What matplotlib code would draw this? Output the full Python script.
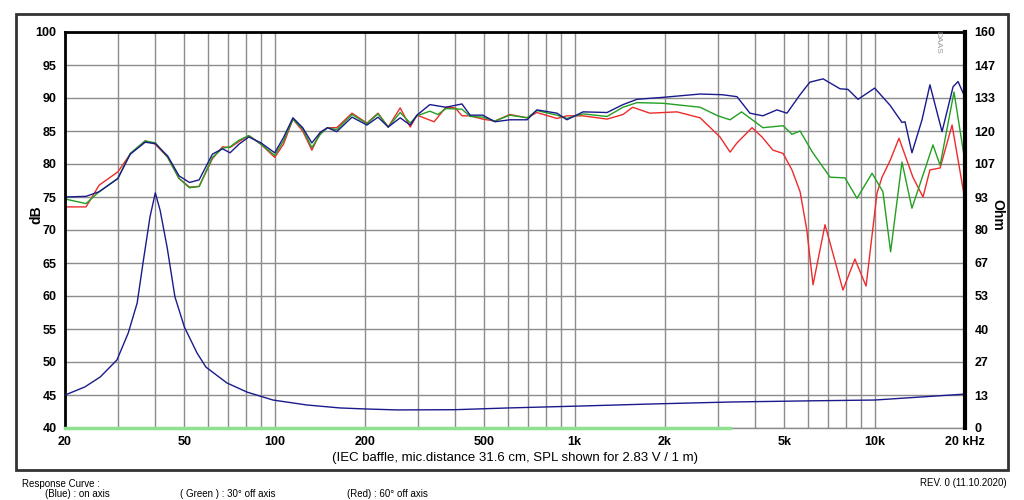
import matplotlib
matplotlib.use("Agg")
import matplotlib.pyplot as plt
from matplotlib.patches import Rectangle
from matplotlib.ticker import FixedLocator, LogLocator, NullFormatter

plt.rcParams['font.family'] = ['Liberation Sans', 'DejaVu Sans']

# SPL on axis (blue)
blue_f = [20, 23.5, 26, 30, 33, 37, 40, 44, 48, 52, 56, 62, 67, 71, 76, 82, 90, 100,
          107, 115, 124, 133, 142, 150, 161, 181, 203, 221, 239, 262, 283, 298, 329,
          372, 421, 448, 494, 542, 608, 694, 748, 873, 942, 1066, 1282, 1449, 1613,
          1970, 2618, 3100, 3476, 3838, 4240, 4720, 5100, 5640, 6080, 6730, 7660,
          8150, 8800, 10000, 11250, 12330, 12620, 13310, 14380, 15280, 16770, 18250,
          18960, 20000]
blue_db = [75.0, 75.1, 75.8, 77.8, 81.5, 83.3, 83.1, 81.2, 78.2, 77.2, 77.6, 81.5, 82.3,
           81.7, 83.0, 84.1, 83.2, 81.7, 84.0, 87.0, 85.5, 83.2, 84.8, 85.5, 84.9, 87.1,
           85.9, 87.1, 85.6, 87.0, 85.9, 87.4, 89.0, 88.6, 89.1, 87.4, 87.4, 86.4, 86.7,
           86.7, 88.2, 87.7, 86.7, 87.9, 87.8, 89.0, 89.8, 90.1, 90.6, 90.5, 90.2, 87.7,
           87.3, 88.2, 87.7, 90.5, 92.4, 92.9, 91.4, 91.3, 89.8, 91.5, 88.9, 86.3, 86.4,
           81.7, 86.7, 92.0, 84.9, 91.7, 92.5, 90.1]

# SPL 30 deg off axis (green)
green_f = [20, 23.5, 26, 30, 33, 37, 40, 44, 48, 52, 56, 62, 67, 71, 76, 82, 90, 100,
           107, 115, 124, 133, 142, 150, 161, 181, 203, 221, 239, 262, 283, 298, 329,
           350, 372, 421, 448, 494, 542, 608, 694, 748, 873, 942, 1066, 1282, 1449,
           1613, 1970, 2618, 3000, 3296, 3600, 4240, 4950, 5300, 5640, 6200, 7100,
           7960, 8730, 9800, 10650, 11300, 12330, 13310, 14930, 15640, 16520, 18380,
           20000]
green_db = [74.7, 74.0, 75.8, 77.8, 81.6, 83.5, 83.2, 81.0, 77.8, 76.4, 76.6, 81.0, 82.4,
            82.6, 83.6, 84.3, 83.0, 81.3, 83.5, 86.8, 85.3, 82.5, 84.5, 85.5, 85.2, 87.5,
            86.1, 87.6, 85.6, 87.8, 86.2, 87.3, 88.0, 87.5, 88.4, 88.3, 87.2, 87.1, 86.5,
            87.4, 87.0, 88.1, 87.4, 86.9, 87.6, 87.2, 88.6, 89.3, 89.2, 88.6, 87.3, 86.7,
            87.9, 85.5, 85.8, 84.5, 85.0, 81.8, 78.0, 77.9, 74.8, 78.6, 75.8, 66.7, 80.3,
            73.3, 80.1, 82.9, 79.8, 90.9, 80.3]

# SPL 60 deg off axis (red)
red_f = [20, 23.5, 26, 30, 33, 37, 40, 44, 48, 52, 56, 62, 67, 71, 76, 82, 90, 100,
         107, 115, 124, 133, 142, 150, 161, 181, 203, 221, 239, 262, 283, 298, 340,
         372, 400, 421, 448, 494, 542, 608, 694, 748, 873, 942, 1066, 1282, 1449, 1560,
         1780, 2192, 2618, 3050, 3296, 3476, 3900, 4210, 4580, 4950, 5300, 5640, 5940,
         6230, 6830, 7840, 8590, 9360, 10180, 10580, 11250, 12050, 13410, 14490, 15280,
         16520, 18110, 20000]
red_db = [73.5, 73.5, 76.8, 78.8, 81.5, 83.5, 83.0, 81.0, 77.8, 76.5, 76.6, 80.8, 82.6,
          82.5, 83.4, 84.3, 83.0, 81.0, 83.0, 86.8, 85.0, 82.1, 84.8, 85.5, 85.5, 87.7,
          86.2, 87.7, 85.6, 88.5, 85.6, 87.4, 86.4, 88.6, 88.5, 87.3, 87.3, 86.8, 86.5,
          87.5, 87.0, 87.8, 86.9, 87.3, 87.3, 86.8, 87.5, 88.6, 87.7, 87.9, 87.0, 84.1,
          81.8, 83.2, 85.5, 84.1, 82.1, 81.6, 79.1, 75.8, 70.0, 61.7, 70.8, 60.9, 65.6,
          61.5, 75.6, 78.0, 80.5, 83.9, 78.0, 75.0, 79.1, 79.4, 85.9, 74.5]

# impedance (blue, right axis)
imp_f = [20, 23.3, 26.2, 29.8, 32.5, 34.8, 36.4, 38.4, 40, 41.5, 43.8, 46.5, 50, 55.1,
         59, 69.3, 80.9, 98.7, 128, 165, 200, 256, 400, 600, 1060, 1800, 3300, 6300,
         10000, 20000]
imp_ohm = [13.3, 16.6, 20.6, 27.5, 38.4, 50.5, 66.7, 85.3, 95.0, 88.0, 73.0, 53.0, 40.8,
           30.3, 24.6, 18.2, 14.5, 11.3, 9.3, 8.1, 7.7, 7.3, 7.4, 8.1, 8.9, 9.7, 10.5,
           11.0, 11.3, 13.7]

# light green baseline
base_f = [20, 3300]
base_ohm = [0, 0]

x_ticks = [20, 50, 100, 200, 500, 1000, 2000, 5000, 10000, 20000]
x_labels = ['20', '50', '100', '200', '500', '1k', '2k', '5k', '10k', '20 kHz']
db_ticks = [40, 45, 50, 55, 60, 65, 70, 75, 80, 85, 90, 95, 100]
ohm_ticks = [i * 160 / 12 for i in range(13)]
ohm_labels = ['0', '13', '27', '40', '53', '67', '80', '93', '107', '120', '133', '147', '160']

navy = '#1a1a8c'

fig = plt.figure(figsize=(10.24, 5.0), dpi=100)
fig.patches.append(Rectangle((16 / 1024, 30 / 500), 992 / 1024, 456 / 500,
                             transform=fig.transFigure, fill=False,
                             edgecolor='#333333', linewidth=2))

ax = fig.add_axes([65 / 1024, 72 / 500, 900 / 1024, 396 / 500])
ax.set_xscale('log')
ax.set_xlim(20, 20000)
ax.set_ylim(40, 100)
ax.xaxis.set_major_locator(FixedLocator(x_ticks))
ax.xaxis.set_minor_locator(LogLocator(base=10, subs=range(1, 10), numticks=20))
ax.xaxis.set_minor_formatter(NullFormatter())
ax.set_xticklabels(x_labels)
ax.set_yticks(db_ticks)
ax.grid(True, which='both', axis='x', color='#8c8c8c', linewidth=1)
ax.grid(True, which='major', axis='y', color='#8c8c8c', linewidth=1)
ax.tick_params(axis='both', which='both', length=0)
ax.tick_params(axis='x', pad=6, labelsize=9)
ax.tick_params(axis='y', pad=6, labelsize=9)
for lab in ax.get_xticklabels() + ax.get_yticklabels():
    lab.set_fontweight('bold')
for s in ['top', 'left', 'right']:
    ax.spines[s].set_linewidth(2)
    ax.spines[s].set_color('black')
ax.spines['bottom'].set_color('#8c8c8c')
ax.spines['bottom'].set_linewidth(1)

ax.plot(red_f, red_db, color='#ee2b2b', linewidth=1)
ax.plot(green_f, green_db, color='#22a022', linewidth=1)
ax.plot(blue_f, blue_db, color=navy, linewidth=1)

ax2 = ax.twinx()
ax2.set_ylim(0, 160)
ax2.set_yticks(ohm_ticks)
ax2.set_yticklabels(ohm_labels)
ax2.tick_params(axis='y', length=0, pad=7, labelsize=9)
for lab in ax2.get_yticklabels():
    lab.set_fontweight('bold')
for s in ax2.spines.values():
    s.set_visible(False)
ax2.spines['right'].set_visible(True)
ax2.spines['right'].set_linewidth(3)
ax2.plot(base_f, base_ohm, color='#8fe08f', linewidth=2.5, clip_on=False)
ax2.plot(imp_f, imp_ohm, color=navy, linewidth=1)

fig.text(36 / 1024, 1 - 215 / 500, 'dB', rotation=90, fontsize=10, fontweight='bold',
         ha='center', va='center')
fig.text(997 / 1024, 1 - 215 / 500, 'Ohm', rotation=270, fontsize=10, fontweight='bold',
         ha='center', va='center')
fig.text(938 / 1024, 1 - 42 / 500, 'DAAS', rotation=270, fontsize=6, color='#999999',
         ha='center', va='center')
fig.text(515 / 1024, 1 - 458 / 500,
         '(IEC baffle, mic.distance 31.6 cm, SPL shown for 2.83 V / 1 m)',
         fontsize=9.5, ha='center', va='center')
fig.text(22 / 1024, 1 - 484 / 500, 'Response Curve :', fontsize=7, ha='left', va='center')
fig.text(1007 / 1024, 1 - 483 / 500, 'REV. 0 (11.10.2020)', fontsize=7, ha='right',
         va='center')
fig.text(45 / 1024, 1 - 494 / 500, '(Blue) : on axis', fontsize=7, ha='left', va='center')
fig.text(180 / 1024, 1 - 494 / 500, '( Green ) : 30\u00b0 off axis', fontsize=7,
         ha='left', va='center')
fig.text(347 / 1024, 1 - 494 / 500, '(Red) : 60\u00b0 off axis', fontsize=7, ha='left',
         va='center')

fig.savefig('out.png', dpi=100)
